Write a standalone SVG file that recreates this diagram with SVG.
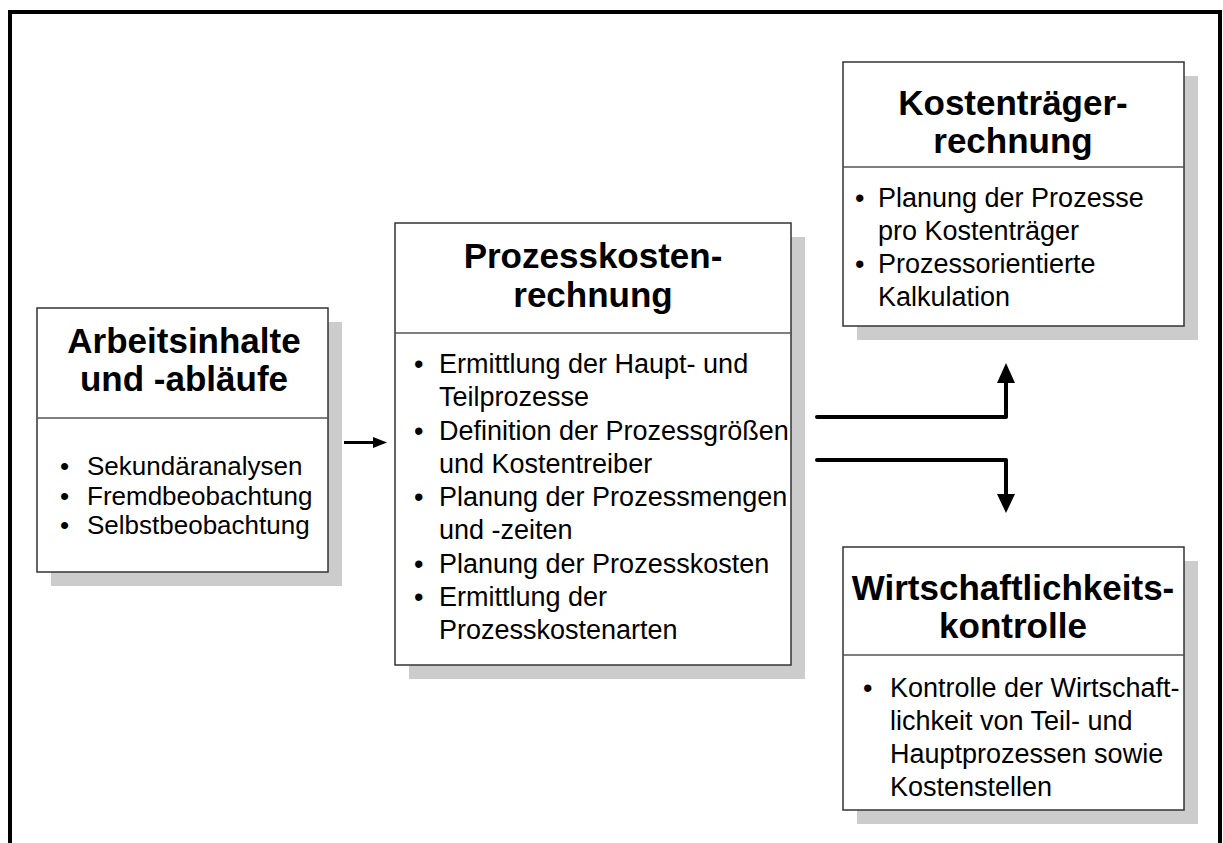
<svg xmlns="http://www.w3.org/2000/svg" width="1223" height="843" viewBox="0 0 1223 843">
<defs>
<style>
.frame{fill:none;stroke:#000;stroke-width:4}
.shadow{fill:#cccccc}
.box{fill:#fff;stroke:#333;stroke-width:1.5}
.div{stroke:#555;stroke-width:1.5}
.title{font-family:"Liberation Sans",Arial,sans-serif;font-weight:bold;font-size:35px;fill:#000;text-anchor:middle}
.body{font-family:"Liberation Sans",Arial,sans-serif;font-size:27px;fill:#000}
.bodyS{font-family:"Liberation Sans",Arial,sans-serif;font-size:26px;fill:#000}
.conn{fill:none;stroke:#000;stroke-width:4;stroke-linecap:round;stroke-linejoin:round}
.thin{fill:none;stroke:#000;stroke-width:3}
</style>
</defs>
<rect width="1223" height="843" fill="#fff"/>
<rect class="frame" x="10" y="12" width="1210" height="900"/>

<g id="arbeitsinhalte">
<rect class="shadow" x="51" y="322" width="291" height="264"/>
<rect class="box" x="37" y="308" width="291" height="264"/>
<line class="div" x1="37" y1="418" x2="328" y2="418"/>
<text class="title" x="184" y="353">Arbeitsinhalte</text>
<text class="title" x="184" y="391">und -abläufe</text>
<text class="bodyS"><tspan x="60" y="475">•</tspan><tspan x="87" y="475">Sekundäranalysen</tspan><tspan x="60" y="505">•</tspan><tspan x="87" y="505">Fremdbeobachtung</tspan><tspan x="60" y="534">•</tspan><tspan x="87" y="534">Selbstbeobachtung</tspan></text>
</g>

<g id="prozesskosten">
<rect class="shadow" x="409" y="237" width="396" height="442"/>
<rect class="box" x="395" y="223" width="396" height="442"/>
<line class="div" x1="395" y1="333" x2="791" y2="333"/>
<text class="title" x="593" y="268">Prozesskosten-</text>
<text class="title" x="593" y="307">rechnung</text>
<text class="body">
<tspan x="414" y="373">•</tspan><tspan x="439" y="373">Ermittlung der Haupt- und</tspan>
<tspan x="439" y="406">Teilprozesse</tspan>
<tspan x="414" y="439.5">•</tspan><tspan x="439" y="439.5">Definition der Prozessgrößen</tspan>
<tspan x="439" y="473">und Kostentreiber</tspan>
<tspan x="414" y="506">•</tspan><tspan x="439" y="506">Planung der Prozessmengen</tspan>
<tspan x="439" y="539">und -zeiten</tspan>
<tspan x="414" y="572.5">•</tspan><tspan x="439" y="572.5">Planung der Prozesskosten</tspan>
<tspan x="414" y="606">•</tspan><tspan x="439" y="606">Ermittlung der</tspan>
<tspan x="439" y="639">Prozesskostenarten</tspan>
</text>
</g>

<g id="kostentraeger">
<rect class="shadow" x="857" y="76" width="341" height="264"/>
<rect class="box" x="843" y="62" width="341" height="264"/>
<line class="div" x1="843" y1="167" x2="1184" y2="167"/>
<text class="title" x="1013" y="115">Kostenträger-</text>
<text class="title" x="1013" y="153">rechnung</text>
<text class="body">
<tspan x="855" y="207">•</tspan><tspan x="878" y="207">Planung der Prozesse</tspan>
<tspan x="878" y="240">pro Kostenträger</tspan>
<tspan x="855" y="273">•</tspan><tspan x="878" y="273">Prozessorientierte</tspan>
<tspan x="878" y="306">Kalkulation</tspan>
</text>
</g>

<g id="wirtschaftlichkeit">
<rect class="shadow" x="857" y="561" width="341" height="263"/>
<rect class="box" x="843" y="547" width="341" height="263"/>
<line class="div" x1="843" y1="655" x2="1184" y2="655"/>
<text class="title" x="1013" y="600">Wirtschaftlichkeits-</text>
<text class="title" x="1013" y="638">kontrolle</text>
<text class="body">
<tspan x="863" y="697">•</tspan><tspan x="890" y="697">Kontrolle der Wirtschaft-</tspan>
<tspan x="890" y="730">lichkeit von Teil- und</tspan>
<tspan x="890" y="763">Hauptprozessen sowie</tspan>
<tspan x="890" y="796">Kostenstellen</tspan>
</text>
</g>

<g id="connectors">
<line class="thin" x1="344" y1="442.5" x2="375" y2="442.5"/>
<polygon points="387,442.5 373,437 373,448" fill="#000"/>
<path class="conn" d="M817,417 H1006 V382"/>
<polygon points="1006,363 997,383 1015,383" fill="#000"/>
<path class="conn" d="M817,460 H1006 V495"/>
<polygon points="1006,513 997,494 1015,494" fill="#000"/>
</g>
</svg>
